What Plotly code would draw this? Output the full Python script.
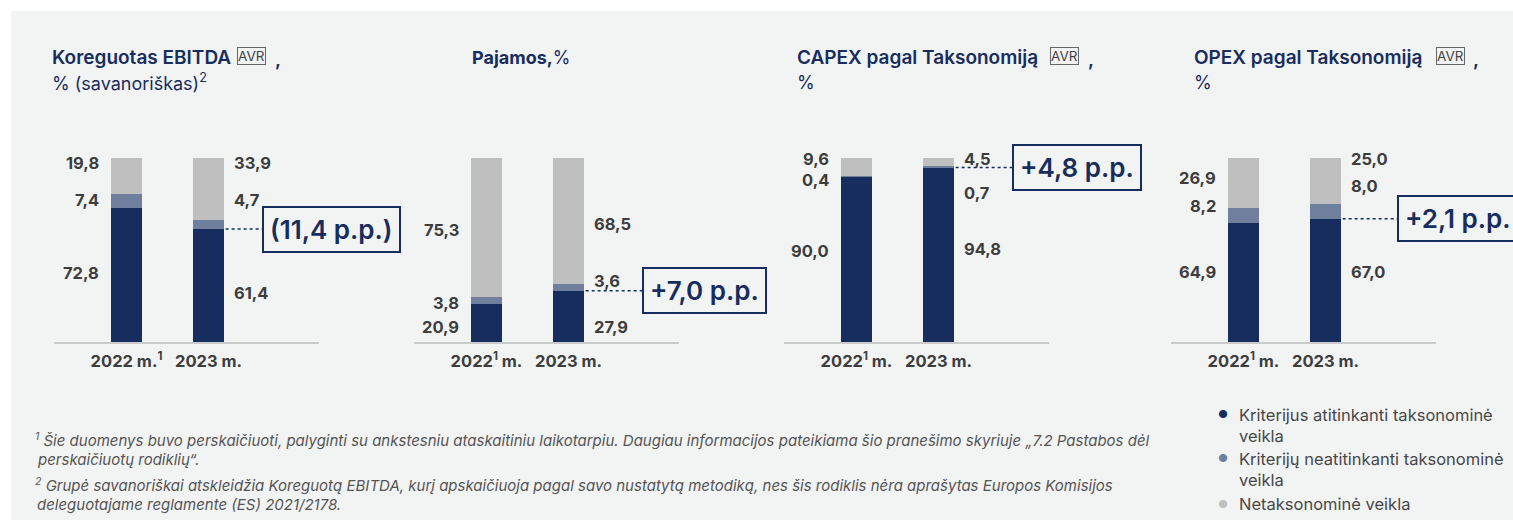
import plotly.graph_objects as go

# ---- data -------------------------------------------------------------
panel_names = ["Koreguotas EBITDA", "Pajamos", "CAPEX pagal Taksonomiją", "OPEX pagal Taksonomiją"]
year_labels_first = ["2022 m.<sup>1</sup>", "2023 m."]
year_labels_other = ["2022<sup>1</sup> m.", "2023 m."]

# shares (%) for 2022 and 2023 in each panel
aligned_share = [[72.8, 61.4], [20.9, 27.9], [90.0, 94.8], [64.9, 67.0]]
not_aligned_share = [[7.4, 4.7], [3.8, 3.6], [0.4, 0.7], [8.2, 8.0]]
non_eligible_share = [[19.8, 33.9], [75.3, 68.5], [9.6, 4.5], [26.9, 25.0]]

legend_labels = [
    "Kriterijus atitinkanti taksonominė<br>veikla",
    "Kriterijų neatitinkanti taksonominė<br>veikla",
    "Netaksonominė veikla",
]

footnotes = [
    "<sup>1</sup> Šie duomenys buvo perskaičiuoti, palyginti su ankstesniu ataskaitiniu laikotarpiu. "
    "Daugiau informacijos pateikiama šio pranešimo skyriuje „7.2 Pastabos dėl",
    "perskaičiuotų rodiklių“.",
    "<sup>2</sup> Grupė savanoriškai atskleidžia Koreguotą EBITDA, kurį apskaičiuoja pagal savo nustatytą "
    "metodiką, nes šis rodiklis nėra aprašytas Europos Komisijos",
    "deleguotajame reglamente (ES) 2021/2178.",
]

# ---- layout helpers -----------------------------------------------------
W, H = 1513, 520
NAVY = "#172d5e"
MID = "#717f9e"
LIGHT = "#bfbfbf"
TXT = "#3d3d3d"
BG = "#f2f3f3"
FONT = "Inter"


def fx(px):
    return px / W


def fy(py):
    return 1 - py / H


axis_left_px = [54, 414, 784, 1171]
AXIS_W = 265
STEP = 82          # px between the two bar centres
FIRST_C = 72.5     # px from axis start to first bar centre
BAR_PX = 31
x_range = [-FIRST_C / STEP, (AXIS_W - FIRST_C) / STEP]
bar_w = BAR_PX / STEP
y_domain = [fy(342), fy(158)]

# vertical positions (in % units) of the value labels: [2022, 2023] x [aligned, not aligned, non-eligible]
label_pos = [
    [[37.5, 77.2, 97.3], [26.6, 77.2, 97.3]],
    [[8.2, 21.2, 60.9], [8.2, 33.2, 64.1]],
    [[49.5, 88.0, 99.5], [50.5, 81.0, 99.5]],
    [[38.0, 73.9, 89.1], [38.0, 84.8, 99.5]],
]
callout_x = [1.652, 1.896, 1.896, 1.872]


def fmt(v):
    return f"{v:.1f}".replace(".", ",")


fig = go.Figure()
annotations = []
shapes = [
    dict(type="rect", xref="paper", yref="paper", x0=fx(11), x1=1.02, y0=-0.02, y1=fy(11),
         fillcolor=BG, line=dict(width=0), layer="below")
]

for i in range(4):
    sfx = "" if i == 0 else str(i + 1)
    xa, ya = f"x{sfx}", f"y{sfx}"
    series = [aligned_share[i], not_aligned_share[i], non_eligible_share[i]]
    for vals, col in zip(series, [NAVY, MID, LIGHT]):
        fig.add_trace(go.Bar(x=[0, 1], y=vals, width=bar_w, marker=dict(color=col, line=dict(width=0)),
                             xaxis=xa, yaxis=ya, hoverinfo="skip", showlegend=False))

    left = axis_left_px[i]
    fig.layout[f"xaxis{sfx}"] = dict(
        domain=[fx(left), fx(left + AXIS_W)], range=x_range, anchor=ya,
        tickmode="array", tickvals=[0, 1],
        ticktext=year_labels_first if i == 0 else year_labels_other,
        tickfont=dict(family=FONT, size=16.5, color=TXT, weight=700),
        ticks="outside", ticklen=3, tickcolor="rgba(0,0,0,0)",
        showline=True, linecolor="#c9cbcc", linewidth=1.5,
        showgrid=False, zeroline=False, fixedrange=True,
    )
    fig.layout[f"yaxis{sfx}"] = dict(domain=y_domain, range=[0, 100], anchor=xa,
                                     visible=False, fixedrange=True)

    # value labels
    for b in range(2):
        for s in range(3):
            annotations.append(dict(
                xref=xa, yref=ya, x=b, y=label_pos[i][b][s], text=fmt(series[s][b]),
                showarrow=False, xanchor="right" if b == 0 else "left",
                xshift=-(BAR_PX / 2 + 10) if b == 0 else (BAR_PX / 2 + 8),
                font=dict(family=FONT, size=16.5, color=TXT, weight=700),
            ))

    # change in the aligned share
    diff = round(aligned_share[i][1] - aligned_share[i][0], 1)
    diff_txt = f"({fmt(abs(diff))} p.p.)" if diff < 0 else f"+{fmt(diff)} p.p."
    y_line = aligned_share[i][1]
    shapes.append(dict(type="line", xref=xa, yref=ya, x0=1 + bar_w / 2 + 0.02, x1=callout_x[i],
                       y0=y_line, y1=y_line, line=dict(color=NAVY, width=1.5, dash="dot")))
    annotations.append(dict(
        xref=xa, yref=ya, x=callout_x[i], y=y_line, text=diff_txt, showarrow=False,
        xanchor="left", yanchor="middle",
        font=dict(family=FONT, size=26, color=NAVY, weight=600),
        bordercolor=NAVY, borderwidth=2, borderpad=6,
    ))

# ---- titles -------------------------------------------------------------
title_font = dict(family=FONT, size=19, color=NAVY, weight=600)
sub_font = dict(family=FONT, size=18, color=NAVY, weight=400)


def paper_text(x, y, text, font, **kw):
    annotations.append(dict(xref="paper", yref="paper", x=fx(x), y=fy(y), text=text,
                            showarrow=False, xanchor="left", yanchor="middle", font=font, **kw))


def avr_box(x, y):
    paper_text(x, y, "AVR", dict(family=FONT, size=13.5, color="#444444"),
               bordercolor="#666666", borderwidth=1, borderpad=0)


paper_text(50, 57, panel_names[0], title_font)
avr_box(237, 56)
paper_text(273, 59, ",", title_font)
paper_text(50, 82, "% (savanoriškas)<sup>2</sup>", sub_font)

paper_text(470, 57, f"<b>{panel_names[1]},</b>%", sub_font)

paper_text(795, 57, panel_names[2], title_font)
avr_box(1050, 56)
paper_text(1086, 59, ",", title_font)
paper_text(795, 82, "%", sub_font)

paper_text(1192, 57, panel_names[3], title_font)
avr_box(1436, 56)
paper_text(1471, 59, ",", title_font)
paper_text(1192, 82, "%", sub_font)

# ---- legend -------------------------------------------------------------
leg_font = dict(family=FONT, size=16.5, color="#474747")
leg_rows = [425, 469, 504]
for lab, col, yy in zip(legend_labels, [NAVY, MID, LIGHT], leg_rows):
    top = yy - 11 if "<br>" in lab else yy
    paper_text(1216, top, "●", dict(family=FONT, size=11, color=col))
    annotations.append(dict(xref="paper", yref="paper", x=fx(1237), y=fy(yy), text=lab,
                            showarrow=False, xanchor="left", yanchor="middle", align="left",
                            font=leg_font))

# ---- footnotes ----------------------------------------------------------
foot_font = dict(family=FONT, size=15, color="#555555", style="italic")
for txt, yy in zip(footnotes, [440, 459, 485, 504]):
    paper_text(33 if txt.startswith("<sup>") else 35, yy, txt, foot_font)

fig.update_layout(
    width=W, height=H, margin=dict(l=0, r=0, t=0, b=0),
    paper_bgcolor="white", plot_bgcolor="rgba(0,0,0,0)",
    barmode="stack", bargap=0, showlegend=False,
    annotations=annotations, shapes=shapes,
)

fig.write_html("out.html", config={"displayModeBar": False})
